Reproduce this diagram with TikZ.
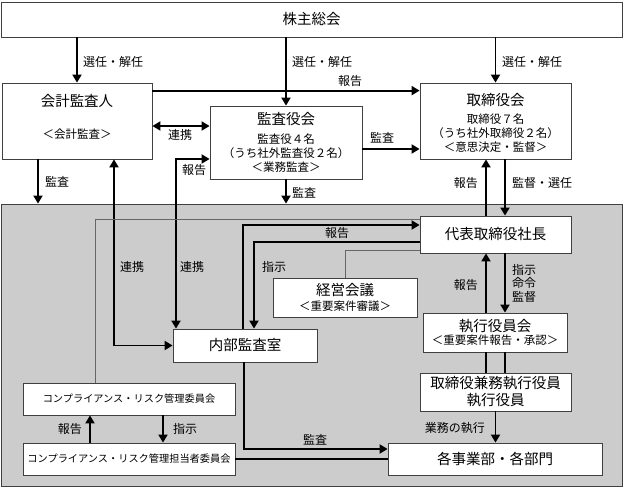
\documentclass[tikz,border=0pt]{standalone}
\usepackage{fontspec}
\setmainfont{Noto Sans CJK JP}
\usetikzlibrary{arrows.meta, positioning, calc}

\begin{document}
\begin{tikzpicture}[
  x=1pt, y=-1pt,
  box/.style={rectangle, draw=black!75, fill=white, line width=0.8pt, inner sep=0pt},
  area/.style={rectangle, draw=black!75, fill=black!20, line width=0.8pt, inner sep=0pt},
  title/.style={font=\fontsize{14.5}{17}\selectfont, inner sep=0pt},
  sub/.style={font=\fontsize{11.5}{14}\selectfont, inner sep=0pt, align=center},
  cmp/.style={font=\fontsize{10.2}{12}\selectfont},
  lbl/.style={font=\fontsize{12}{13.5}\selectfont, inner sep=0pt},
  arrow/.style={-{Triangle[length=8pt,width=9pt]}, line width=1.9pt},
  dblarrow/.style={{Triangle[length=8pt,width=9pt]}-{Triangle[length=8pt,width=9pt]}, line width=1.9pt},
  link/.style={line width=1.9pt},
  thinline/.style={draw=black!60, line width=1pt}
]
  \useasboundingbox (0,0) rectangle (624,487);

  % Shareholders' meeting (top)
  \node[box, title, minimum width=621pt, minimum height=35pt] (kabunushi) at (311.5,19.5) {株主総会};

  % Upper tier - auditor, audit board, board of directors
  \node[box, minimum width=150pt, minimum height=76pt] (kaikei) at (77,121) {};
  \node[title] (kaikeiT) at ([yshift=20pt]kaikei.center) {会計監査人};
  \node[sub] (kaikeiS) at ([yshift=-13pt]kaikei.center) {＜会計監査＞};

  \node[box, minimum width=152pt, minimum height=73pt] (kansa) at (286,142.5) {};
  \node[title] (kansaT) at ([yshift=23.5pt]kansa.center) {監査役会};
  \node[sub] (kansaS) at ([yshift=-10.5pt]kansa.center) {監査役４名\\（うち社外監査役２名）\\＜業務監査＞};

  \node[box, minimum width=151pt, minimum height=76pt] (torishimari) at (495.5,121) {};
  \node[title] (torishimariT) at ([yshift=21pt]torishimari.center) {取締役会};
  \node[sub] (torishimariS) at ([yshift=-12.5pt]torishimari.center) {取締役７名\\（うち社外取締役２名）\\＜意思決定・監督＞};

  % Execution area (gray)
  \node[area, minimum width=621pt, minimum height=282pt] (area) at (311.5,345) {};

  \node[box, title, minimum width=151pt, minimum height=37pt] (daihyo) at (495.5,234.5) {代表取締役社長};

  \node[box, minimum width=144pt, minimum height=39pt] (keiei) at (345,297.5) {};
  \node[title] (keieiT) at ([yshift=7pt]keiei.center) {経営会議};
  \node[sub] (keieiS) at ([yshift=-8.5pt]keiei.center) {＜重要案件審議＞};

  \node[box, title, minimum width=144pt, minimum height=33pt] (naibu) at (245,345.5) {内部監査室};

  \node[box, minimum width=144pt, minimum height=39pt] (shikko) at (495,332.5) {};
  \node[title] (shikkoT) at ([yshift=6pt]shikko.center) {執行役員会};
  \node[sub] (shikkoS) at ([yshift=-7.5pt]shikko.center) {＜重要案件報告・承認＞};

  \node[box, title, align=center, minimum width=151pt, minimum height=38pt] (kenmu) at (495.5,392) {取締役兼務執行役員\\執行役員};

  \node[box, title, minimum width=214pt, minimum height=32pt] (jigyo) at (495,459) {各事業部・各部門};

  \node[box, cmp, minimum width=212pt, minimum height=32pt] (iinkai) at (129,399) {コンプライアンス・リスク管理委員会};
  \node[box, cmp, minimum width=212pt, minimum height=32pt] (tanto) at (129,459) {コンプライアンス・リスク管理担当者委員会};

  % Elections from the shareholders' meeting
  \draw[arrow] (kabunushi.south -| kaikei.north) -- (kaikei.north);
  \draw[arrow] (kabunushi.south -| kansa.north) -- (kansa.north);
  \draw[arrow] (kabunushi.south -| torishimari.north) -- (torishimari.north);
  \node[lbl, anchor=west] (senA) at (83,62) {選任・解任};
  \node[lbl, anchor=west] (senB) at (292,62) {選任・解任};
  \node[lbl, anchor=west] (senC) at (502,62) {選任・解任};

  % Upper tier connections
  \draw[arrow] ([yshift=-8pt]kaikei.north east) -- ([yshift=-8pt]torishimari.north west);
  \node[lbl] (hokokuA) at (350,81) {報告};
  \draw[dblarrow] ([yshift=-5pt]kaikei.east) -- ([yshift=16.5pt]kansa.west);
  \node[lbl] (renkeiA) at (180,135) {連携};
  \draw[arrow] ([yshift=-6.5pt]kansa.east) -- ([yshift=-28pt]torishimari.west);
  \node[lbl] (kansaA) at (382,138) {監査};

  % Audits down into the execution area
  \draw[arrow] ([xshift=-39pt]kaikei.south) -- ([xshift=-39pt]kaikei.south |- area.north);
  \node[lbl, anchor=west] (kansaB) at (45,182) {監査};
  \draw[arrow] (kansa.south) -- (kansa.south |- area.north);
  \node[lbl, anchor=west] (kansaC) at (292,193) {監査};

  % Board <-> president
  \draw[arrow] ([xshift=-9.5pt]daihyo.north) -- ([xshift=-9.5pt]torishimari.south);
  \draw[arrow] ([xshift=9.5pt]torishimari.south) -- ([xshift=9.5pt]daihyo.north);
  \node[lbl, anchor=east] (hokokuB) at (478,183) {報告};
  \node[lbl, anchor=west] (kantokuA) at (512,183) {監督・選任};

  % Internal audit office
  \draw[dblarrow] (naibu.west) -| ([xshift=37pt]kaikei.south);
  \node[lbl, anchor=west] (renkeiB) at (120,267) {連携};
  \draw[dblarrow] ([yshift=-16.5pt]kansa.west) -| ([xshift=-69pt]naibu.north);
  \node[lbl, anchor=west] (hokokuC) at (182,170) {報告};
  \node[lbl, anchor=west] (renkeiC) at (180,267) {連携};
  \draw[arrow] ([xshift=-2pt]naibu.north) |- ([yshift=9.5pt]daihyo.west);
  \node[lbl] (hokokuD) at (337,233) {報告};
  \draw[arrow] ([yshift=-7.5pt]daihyo.west) -| ([xshift=9pt]naibu.north);
  \node[lbl, anchor=west] (shijiA) at (262,267) {指示};

  % Thin lines to the president
  \draw[thinline] (keiei.north) |- ([yshift=-15.5pt]daihyo.west);
  \draw[thinline] ([xshift=-34pt]iinkai.north) |- ([yshift=15.5pt]daihyo.west);

  % President <-> executive officers
  \draw[arrow] ([xshift=-9.5pt]daihyo.south |- shikko.north) -- ([xshift=-9.5pt]daihyo.south);
  \draw[arrow] ([xshift=9.5pt]daihyo.south) -- ([xshift=9.5pt]daihyo.south |- shikko.north);
  \node[lbl, anchor=east] (hokokuE) at (478,285) {報告};
  \node[lbl, anchor=west, align=left] (shijiB) at (512,283) {指示\\命令\\監督};
  \draw[link] ([xshift=-9.5pt]daihyo.south |- shikko.south) -- ([xshift=-9.5pt]daihyo.south |- kenmu.north);
  \draw[link] ([xshift=9.5pt]daihyo.south |- shikko.south) -- ([xshift=9.5pt]daihyo.south |- kenmu.north);

  % Business execution
  \draw[arrow] (kenmu.south) -- (kenmu.south |- jigyo.north);
  \node[lbl, anchor=east] (gyomu) at (485,428) {業務の執行};
  \draw[arrow] ([xshift=-1pt]naibu.south) |- ([yshift=10pt]jigyo.west);
  \node[lbl, anchor=west] (kansaD) at (303,440) {監査};
  \draw[link] (tanto.east) -- (tanto.east -| jigyo.west);

  % Compliance committees
  \draw[arrow] ([xshift=-39pt]tanto.north) -- ([xshift=-39pt]iinkai.south);
  \node[lbl, anchor=east] (hokokuF) at (82,429) {報告};
  \draw[arrow] ([xshift=34pt]iinkai.south) -- ([xshift=34pt]tanto.north);
  \node[lbl, anchor=west] (shijiC) at (173,429) {指示};
\end{tikzpicture}
\end{document}
